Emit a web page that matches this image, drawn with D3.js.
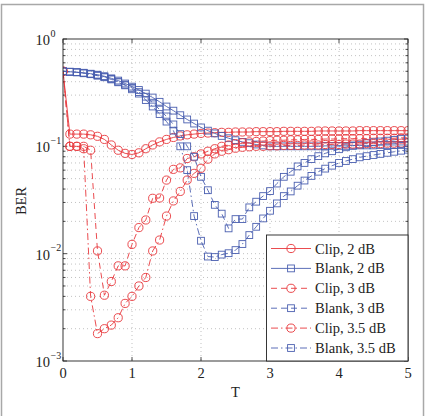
<!DOCTYPE html>
<html><head><meta charset="utf-8">
<script src="https://cdn.jsdelivr.net/npm/d3@7"></script>
<style>
html,body{margin:0;padding:0;background:#fff;}
svg{display:block;font-family:"Liberation Serif","Times New Roman",serif;}
</style></head>
<body>
<svg id="chart" width="428" height="416"></svg>
<script>
const T = d3.range(51).map(i => +(i * 0.1).toFixed(1));
const xTicks = [0, 1, 2, 3, 4, 5];
const yTickExps = [0, -1, -2, -3];
const legendLabels = ["Clip, 2 dB", "Blank, 2 dB", "Clip, 3 dB", "Blank, 3 dB", "Clip, 3.5 dB", "Blank, 3.5 dB"];

const clip2 = [0.5,0.13,0.13,0.13,0.128,0.124,0.116,0.103,0.092,0.086,0.084,0.087,0.095,0.103,0.11,0.116,0.121,0.125,0.128,0.13,0.132,0.133,0.134,0.135,0.135,0.136,0.136,0.136,0.137,0.137,0.137,0.137,0.138,0.138,0.138,0.138,0.138,0.139,0.139,0.139,0.139,0.139,0.139,0.14,0.14,0.14,0.14,0.14,0.14,0.14,0.14];
const blank2 = [0.5,0.495,0.49,0.485,0.475,0.465,0.45,0.43,0.41,0.385,0.36,0.335,0.31,0.285,0.26,0.235,0.215,0.195,0.178,0.163,0.15,0.14,0.132,0.125,0.119,0.114,0.11,0.107,0.104,0.102,0.1,0.1,0.1,0.1,0.1,0.1,0.1,0.1,0.101,0.101,0.101,0.101,0.102,0.102,0.102,0.102,0.103,0.103,0.103,0.103,0.103];
const clip3 = [0.5,0.1,0.1,0.1,0.092,0.0106,0.0041,0.0055,0.0077,0.0077,0.0122,0.0175,0.0206,0.0328,0.033,0.0485,0.061,0.063,0.077,0.08,0.085,0.09,0.095,0.1,0.103,0.106,0.108,0.11,0.111,0.112,0.113,0.114,0.114,0.115,0.115,0.116,0.116,0.116,0.117,0.117,0.117,0.118,0.118,0.118,0.118,0.119,0.119,0.119,0.119,0.12,0.12];
const blank3 = [0.5,0.495,0.49,0.48,0.47,0.46,0.445,0.425,0.4,0.375,0.35,0.32,0.29,0.255,0.22,0.19,0.16,0.13,0.1,0.08,0.052,0.039,0.0285,0.0236,0.0172,0.021,0.021,0.027,0.0305,0.0344,0.0383,0.045,0.052,0.058,0.065,0.07,0.076,0.081,0.086,0.09,0.094,0.098,0.101,0.104,0.107,0.109,0.111,0.113,0.115,0.117,0.118];
const clip35 = [0.5,0.1,0.1,0.095,0.004,0.0018,0.002,0.00216,0.00253,0.00344,0.004,0.005,0.006,0.0106,0.0134,0.0224,0.031,0.038,0.0485,0.056,0.0624,0.076,0.085,0.09,0.093,0.096,0.098,0.099,0.1,0.1,0.101,0.101,0.102,0.102,0.102,0.103,0.103,0.103,0.104,0.104,0.104,0.105,0.105,0.105,0.106,0.106,0.106,0.107,0.107,0.107,0.108];
const blank35 = [0.5,0.495,0.49,0.48,0.47,0.455,0.44,0.42,0.395,0.37,0.34,0.31,0.27,0.235,0.2,0.17,0.14,0.1,0.06,0.0224,0.0132,0.0094,0.0093,0.0098,0.0101,0.0108,0.0123,0.0149,0.0178,0.0213,0.0251,0.0294,0.0344,0.038,0.043,0.048,0.053,0.058,0.062,0.066,0.07,0.073,0.076,0.079,0.081,0.083,0.085,0.087,0.089,0.091,0.093];

const RED = "#e8383c", BLUE = "#4a5fb0";
const series = [
  {values: clip2, color: RED, marker: "circle", dash: null},
  {values: blank2, color: BLUE, marker: "square", dash: null},
  {values: clip3, color: RED, marker: "circle", dash: "6,4"},
  {values: blank3, color: BLUE, marker: "square", dash: "6,4"},
  {values: clip35, color: RED, marker: "circle", dash: "7,3,1.5,3"},
  {values: blank35, color: BLUE, marker: "square", dash: "7,3,1.5,3"}
];

const svg = d3.select("#chart");
const L = 63, R = 408, Tp = 39, B = 361;
const x = d3.scaleLinear().domain([0, 5]).range([L, R]);
const y = d3.scaleLog().domain([1e-3, 1]).range([B, Tp]);

// figure frame
svg.append("rect").attr("x", 1.5).attr("y", 4.5).attr("width", 422).attr("height", 420)
  .attr("fill", "none").attr("stroke", "#a8a8a8").attr("stroke-width", 1.5);

// grid
const gridY = [];
for (let e = -3; e < 0; e++) for (let m = 1; m <= 9; m++) gridY.push(m * Math.pow(10, e));
const g = svg.append("g");
g.selectAll(".gy").data(gridY.filter(v => v > 1e-3)).enter().append("line")
  .attr("x1", L).attr("x2", R).attr("y1", d => y(d)).attr("y2", d => y(d))
  .attr("stroke", "#a8a8a8").attr("stroke-width", 0.7).attr("stroke-dasharray", "1,3");
g.selectAll(".gx").data(xTicks.slice(1, -1)).enter().append("line")
  .attr("x1", d => x(d)).attr("x2", d => x(d)).attr("y1", Tp).attr("y2", B)
  .attr("stroke", "#a8a8a8").attr("stroke-width", 0.7).attr("stroke-dasharray", "1,3");

// ticks (inward)
const tk = svg.append("g").attr("stroke", "#222").attr("stroke-width", 0.8);
xTicks.forEach(t => {
  tk.append("line").attr("x1", x(t)).attr("x2", x(t)).attr("y1", B).attr("y2", B - 4);
  tk.append("line").attr("x1", x(t)).attr("x2", x(t)).attr("y1", Tp).attr("y2", Tp + 4);
});
gridY.concat([1]).forEach(v => {
  const major = Math.abs(Math.log10(v) - Math.round(Math.log10(v))) < 1e-9;
  const len = major ? 4 : 2.5;
  tk.append("line").attr("x1", L).attr("x2", L + len).attr("y1", y(v)).attr("y2", y(v));
  tk.append("line").attr("x1", R).attr("x2", R - len).attr("y1", y(v)).attr("y2", y(v));
});

// series
svg.append("defs").append("clipPath").attr("id", "pc")
  .append("rect").attr("x", L).attr("y", Tp).attr("width", R - L).attr("height", B - Tp);
const plot = svg.append("g").attr("clip-path", "url(#pc)");
const line = d3.line().x((d, i) => x(T[i])).y(d => y(d));
function drawMarker(sel, type, cx, cy, color) {
  if (type === "circle") {
    sel.append("circle").attr("cx", cx).attr("cy", cy).attr("r", 4.1)
      .attr("fill", "none").attr("stroke", color).attr("stroke-width", 0.9);
  } else {
    sel.append("rect").attr("x", cx - 3.4).attr("y", cy - 3.4).attr("width", 6.8).attr("height", 6.8)
      .attr("fill", "none").attr("stroke", color).attr("stroke-width", 0.9);
  }
}
series.forEach(s => {
  plot.append("path").attr("d", line(s.values)).attr("fill", "none")
    .attr("stroke", s.color).attr("stroke-width", 0.9)
    .attr("stroke-dasharray", s.dash);
});
series.forEach(s => {
  const mg = plot.append("g");
  s.values.forEach((v, i) => drawMarker(mg, s.marker, x(T[i]), y(v), s.color));
});

// axis box
svg.append("rect").attr("x", L).attr("y", Tp).attr("width", R - L).attr("height", B - Tp)
  .attr("fill", "none").attr("stroke", "#222").attr("stroke-width", 0.9);

// tick labels
const lab = svg.append("g").attr("fill", "#222").attr("font-size", 14.5);
xTicks.forEach(t => {
  lab.append("text").attr("x", x(t)).attr("y", 378).attr("text-anchor", "middle").text(t);
});
yTickExps.forEach(e => {
  lab.append("text").attr("x", 50).attr("y", y(Math.pow(10, e)) + 6).attr("text-anchor", "end").text("10");
  lab.append("text").attr("x", 50.5).attr("y", y(Math.pow(10, e)) - 2.5).attr("font-size", 10)
    .text(e === 0 ? "0" : "\u2212" + (-e));
});
svg.append("text").attr("x", x(2.5)).attr("y", 397).attr("text-anchor", "middle")
  .attr("font-size", 14.5).attr("fill", "#222").text("T");
svg.append("text").attr("transform", "translate(26,201) rotate(-90)").attr("text-anchor", "middle")
  .attr("font-size", 14.5).attr("fill", "#222").text("BER");

// legend
const lg = svg.append("g");
lg.append("rect").attr("x", 266.5).attr("y", 235).attr("width", R - 266.5).attr("height", B - 235)
  .attr("fill", "#fff").attr("stroke", "#222").attr("stroke-width", 0.9);
series.forEach((s, i) => {
  const cy = 248.5 + i * 19.9;
  lg.append("line").attr("x1", 271).attr("x2", 311).attr("y1", cy).attr("y2", cy)
    .attr("stroke", s.color).attr("stroke-width", 0.9).attr("stroke-dasharray", s.dash);
  drawMarker(lg, s.marker, 291, cy, s.color);
  lg.append("text").attr("x", 315).attr("y", cy + 5).attr("font-size", 14.5).attr("fill", "#222")
    .text(legendLabels[i]);
});
</script>
</body></html>
